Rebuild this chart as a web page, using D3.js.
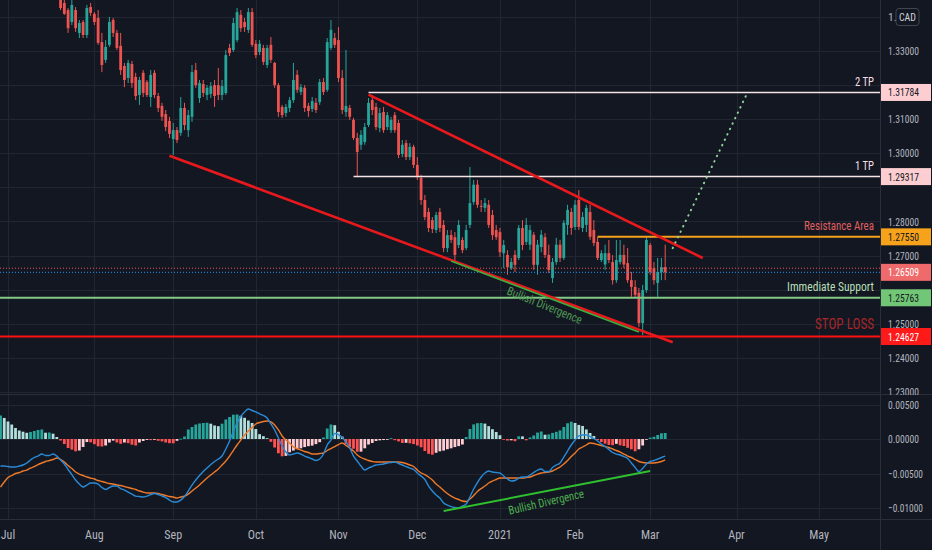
<!DOCTYPE html>
<html><head><meta charset="utf-8">
<script src="https://cdn.jsdelivr.net/npm/d3@7"></script>
<style>
html,body{margin:0;padding:0;background:#131722;overflow:hidden;}
svg{display:block;}
text{font-family:"Liberation Sans Narrow","Roboto Condensed",Roboto,"DejaVu Sans",sans-serif;}
</style></head><body>
<svg id="chart" width="932" height="550"></svg>
<script>
// ---------- categories (trading calendar) ----------
const calendarStart = "2020-06-29", calendarEnd = "2021-05-31";
const holidays = ["2020-12-25","2021-01-01"];
const candleStartDate = "2020-07-17";
const macdStartDate = "2020-06-29";

// ---------- price series (USDCAD daily) ----------
const opens = [
1.3480,1.3470,1.3450,1.3441,1.3420,1.3385,1.3420,1.3353,1.3385,1.3347,
1.3429,1.3409,1.3397,1.3326,1.3274,1.3318,1.3391,1.3353,1.3315,1.3256,
1.3221,1.3262,1.3224,1.3171,1.3236,1.3209,1.3165,1.3236,1.3168,1.3139,
1.3115,1.3095,1.3042,1.3068,1.3060,1.3133,1.3068,1.3107,1.3244,1.3162,
1.3203,1.3171,1.3174,1.3200,1.3200,1.3171,1.3177,1.3309,1.3303,1.3332,
1.3406,1.3385,1.3362,1.3414,1.3321,1.3297,1.3309,1.3259,1.3318,1.3265,
1.3200,1.3136,1.3118,1.3133,1.3156,1.3230,1.3180,1.3192,1.3139,1.3130,
1.3148,1.3150,1.3209,1.3186,1.3309,1.3338,1.3332,1.3221,1.3121,1.3133,
1.3098,1.3045,1.3025,1.3033,1.3083,1.3156,1.3136,1.3074,1.3121,1.3077,
1.3068,1.3112,1.3089,1.2998,1.3030,1.2989,1.3019,1.2966,1.2928,1.2863,
1.2828,1.2804,1.2775,1.2828,1.2790,1.2722,1.2760,1.2754,1.2731,1.2746,
1.2722,1.2790,1.2857,1.2908,1.2846,1.2840,1.2849,1.2819,1.2775,1.2769,
1.2707,1.2702,1.2663,1.2702,1.2693,1.2781,1.2740,1.2732,1.2761,1.2673,
1.2725,1.2754,1.2702,1.2634,1.2681,1.2732,1.2693,1.2790,1.2828,1.2784,
1.2863,1.2781,1.2790,1.2828,1.2775,1.2740,1.2687,1.2674,1.2707,1.2681,
1.2628,1.2681,1.2702,1.2678,1.2628,1.2608,1.2591,1.2502,1.2599,1.2731,
1.2663,1.2620,1.2652,1.2666];
const highs = [
1.3500,1.3490,1.3458,1.3450,1.3426,1.3450,1.3429,1.3391,1.3391,1.3435,
1.3441,1.3414,1.3420,1.3353,1.3332,1.3400,1.3397,1.3362,1.3353,1.3265,
1.3274,1.3271,1.3236,1.3224,1.3244,1.3215,1.3244,1.3244,1.3177,1.3148,
1.3127,1.3107,1.3089,1.3077,1.3165,1.3148,1.3127,1.3259,1.3265,1.3215,
1.3215,1.3200,1.3209,1.3215,1.3250,1.3215,1.3303,1.3321,1.3397,1.3426,
1.3420,1.3397,1.3426,1.3426,1.3332,1.3332,1.3318,1.3318,1.3341,1.3268,
1.3206,1.3142,1.3145,1.3165,1.3265,1.3244,1.3203,1.3200,1.3148,1.3165,
1.3162,1.3218,1.3221,1.3338,1.3391,1.3353,1.3370,1.3244,1.3303,1.3142,
1.3104,1.3060,1.3068,1.3089,1.3162,1.3171,1.3148,1.3133,1.3136,1.3121,
1.3107,1.3121,1.3098,1.3039,1.3039,1.3030,1.3025,1.2989,1.2937,1.2878,
1.2840,1.2813,1.2828,1.2840,1.2804,1.2775,1.2775,1.2769,1.2804,1.2754,
1.2790,1.2960,1.2922,1.2922,1.2863,1.2869,1.2863,1.2834,1.2790,1.2781,
1.2746,1.2716,1.2693,1.2716,1.2790,1.2804,1.2810,1.2790,1.2769,1.2746,
1.2775,1.2766,1.2732,1.2693,1.2752,1.2746,1.2804,1.2849,1.2840,1.2863,
1.2892,1.2828,1.2849,1.2849,1.2804,1.2754,1.2716,1.2732,1.2746,1.2702,
1.2746,1.2746,1.2732,1.2722,1.2652,1.2628,1.2605,1.2614,1.2754,1.2737,
1.2681,1.2693,1.2693,1.2732];
const lows = [
1.3455,1.3452,1.3420,1.3406,1.3353,1.3376,1.3356,1.3338,1.3338,1.3338,
1.3403,1.3376,1.3318,1.3238,1.3265,1.3312,1.3341,1.3303,1.3230,1.3194,
1.3206,1.3192,1.3156,1.3142,1.3165,1.3165,1.3136,1.3162,1.3121,1.3095,
1.3065,1.3045,1.2995,1.3030,1.3051,1.3068,1.3048,1.3092,1.3192,1.3148,
1.3165,1.3156,1.3162,1.3136,1.3156,1.3156,1.3171,1.3285,1.3297,1.3326,
1.3356,1.3356,1.3353,1.3312,1.3279,1.3288,1.3259,1.3250,1.3265,1.3192,
1.3107,1.3104,1.3107,1.3121,1.3148,1.3177,1.3171,1.3121,1.3107,1.3121,
1.3118,1.3142,1.3171,1.3180,1.3303,1.3309,1.3209,1.3115,1.3107,1.3098,
1.3039,1.2930,1.3010,1.3025,1.3077,1.3112,1.3068,1.3062,1.3060,1.3068,
1.3060,1.3060,1.2986,1.2989,1.2980,1.2980,1.2957,1.2922,1.2849,1.2804,
1.2769,1.2766,1.2766,1.2769,1.2710,1.2710,1.2737,1.2681,1.2722,1.2707,
1.2716,1.2781,1.2849,1.2840,1.2828,1.2828,1.2781,1.2746,1.2746,1.2696,
1.2663,1.2644,1.2658,1.2652,1.2687,1.2716,1.2731,1.2716,1.2658,1.2644,
1.2710,1.2693,1.2649,1.2620,1.2673,1.2681,1.2687,1.2761,1.2761,1.2775,
1.2775,1.2769,1.2769,1.2746,1.2728,1.2687,1.2681,1.2658,1.2678,1.2615,
1.2620,1.2674,1.2663,1.2620,1.2579,1.2576,1.2490,1.2467,1.2591,1.2644,
1.2615,1.2579,1.2628,1.2628];
const closes = [
1.3470,1.3462,1.3426,1.3409,1.3367,1.3435,1.3367,1.3382,1.3347,1.3426,
1.3412,1.3385,1.3324,1.3259,1.3312,1.3385,1.3353,1.3309,1.3244,1.3215,
1.3265,1.3206,1.3168,1.3215,1.3177,1.3171,1.3230,1.3171,1.3133,1.3107,
1.3077,1.3057,1.3068,1.3039,1.3133,1.3083,1.3112,1.3238,1.3200,1.3206,
1.3177,1.3192,1.3197,1.3168,1.3171,1.3197,1.3288,1.3294,1.3382,1.3414,
1.3367,1.3370,1.3414,1.3318,1.3288,1.3321,1.3268,1.3309,1.3274,1.3200,
1.3121,1.3112,1.3136,1.3156,1.3215,1.3186,1.3194,1.3133,1.3124,1.3153,
1.3127,1.3209,1.3180,1.3326,1.3362,1.3318,1.3221,1.3127,1.3139,1.3107,
1.3045,1.3004,1.3054,1.3077,1.3148,1.3127,1.3077,1.3118,1.3068,1.3112,
1.3098,1.3068,1.2995,1.3025,1.2989,1.3019,1.2966,1.2930,1.2863,1.2813,
1.2781,1.2778,1.2819,1.2781,1.2722,1.2760,1.2746,1.2702,1.2790,1.2716,
1.2775,1.2854,1.2908,1.2849,1.2843,1.2854,1.2790,1.2760,1.2754,1.2710,
1.2731,1.2666,1.2681,1.2673,1.2781,1.2731,1.2790,1.2775,1.2673,1.2732,
1.2761,1.2702,1.2658,1.2681,1.2732,1.2693,1.2796,1.2834,1.2781,1.2849,
1.2784,1.2813,1.2840,1.2755,1.2737,1.2693,1.2707,1.2707,1.2687,1.2628,
1.2687,1.2702,1.2674,1.2628,1.2608,1.2585,1.2502,1.2599,1.2746,1.2652,
1.2628,1.2652,1.2666,1.2651];

// ---------- MACD (12,26,9) ----------
const macdLine = [
-.00392,-.00392,-.00399,-.00406,-.00406,-.00392,-.00377,-.00348,-.00305,-.00268,
-.00247,-.00218,-.00239,-.00239,-.00218,-.00247,-.00305,-.00363,-.00442,-.00515,
-.00595,-.00653,-.00696,-.00667,-.00638,-.00638,-.00653,-.00703,-.00732,-.00703,
-.00682,-.00682,-.00718,-.00740,-.00769,-.00798,-.00827,-.00834,-.00841,-.00827,
-.00805,-.00790,-.00805,-.00827,-.00848,-.00885,-.00914,-.00914,-.00885,-.00834,
-.00754,-.00667,-.00595,-.00529,-.00471,-.00421,-.00370,-.00326,-.00290,-.00247,
-.00145,-.00029,.00109,.00232,.00326,.00392,.00435,.00413,.00392,.00363,
.00341,.00305,.00218,.00131,.00015,-.00102,-.00189,-.00232,-.00218,-.00203,
-.00218,-.00247,-.00268,-.00290,-.00312,-.00290,-.00218,-.00087,-.00015,.00080,
.00065,.00022,-.00044,-.00131,-.00247,-.00319,-.00392,-.00450,-.00421,-.00399,
-.00377,-.00370,-.00363,-.00348,-.00341,-.00334,-.00355,-.00377,-.00399,-.00421,
-.00442,-.00493,-.00537,-.00587,-.00682,-.00754,-.00812,-.00856,-.00928,-.00957,
-.00979,-.00993,-.01001,-.00972,-.00943,-.00841,-.00725,-.00631,-.00551,-.00493,
-.00464,-.00479,-.00486,-.00493,-.00537,-.00580,-.00609,-.00602,-.00566,-.00551,
-.00551,-.00522,-.00486,-.00450,-.00435,-.00471,-.00471,-.00413,-.00377,-.00348,
-.00261,-.00174,-.00087,-.00015,.00044,.00058,.00058,.00036,.00007,-.00029,
-.00073,-.00109,-.00152,-.00196,-.00218,-.00232,-.00254,-.00283,-.00348,-.00413,
-.00471,-.00428,-.00363,-.00326,-.00312,-.00290,-.00268,-.00247];
const signalLine = [
-.00696,-.00624,-.00558,-.00529,-.00500,-.00486,-.00464,-.00450,-.00421,-.00399,
-.00370,-.00348,-.00326,-.00312,-.00297,-.00276,-.00297,-.00334,-.00384,-.00428,
-.00479,-.00508,-.00529,-.00551,-.00566,-.00580,-.00602,-.00616,-.00631,-.00645,
-.00653,-.00667,-.00674,-.00689,-.00703,-.00718,-.00732,-.00754,-.00769,-.00783,
-.00783,-.00783,-.00790,-.00805,-.00819,-.00834,-.00841,-.00856,-.00841,-.00827,
-.00798,-.00754,-.00711,-.00667,-.00616,-.00566,-.00522,-.00479,-.00435,-.00377,
-.00319,-.00247,-.00167,-.00087,-.00015,.00058,.00116,.00167,.00218,.00239,
.00254,.00261,.00247,.00203,.00131,.00044,-.00015,-.00058,-.00116,-.00138,
-.00160,-.00181,-.00196,-.00218,-.00218,-.00210,-.00203,-.00167,-.00138,-.00109,
-.00080,-.00058,-.00094,-.00131,-.00174,-.00232,-.00268,-.00290,-.00312,-.00326,
-.00334,-.00334,-.00334,-.00334,-.00334,-.00334,-.00334,-.00341,-.00355,-.00377,
-.00399,-.00450,-.00493,-.00515,-.00551,-.00595,-.00653,-.00696,-.00747,-.00790,
-.00827,-.00856,-.00877,-.00899,-.00906,-.00870,-.00819,-.00761,-.00718,-.00682,
-.00638,-.00609,-.00587,-.00566,-.00566,-.00566,-.00566,-.00566,-.00566,-.00566,
-.00558,-.00551,-.00529,-.00508,-.00493,-.00486,-.00479,-.00464,-.00435,-.00406,
-.00363,-.00312,-.00254,-.00203,-.00145,-.00116,-.00087,-.00058,-.00065,-.00080,
-.00094,-.00109,-.00123,-.00145,-.00167,-.00189,-.00218,-.00247,-.00268,-.00297,
-.00326,-.00341,-.00348,-.00348,-.00348,-.00341,-.00326,-.00304];
const histogram = [
.00341,.00305,.00254,.00210,.00160,.00123,.00106,.00090,.00102,.00116,
.00131,.00138,.00091,.00094,.00077,.00029,-.00022,-.00073,-.00131,-.00154,
-.00178,-.00167,-.00116,-.00044,-.00048,-.00075,-.00106,-.00109,-.00094,-.00051,
-.00023,-.00051,-.00070,-.00051,-.00061,-.00083,-.00094,-.00051,-.00029,-.00013,
-.00016,-.00012,-.00026,-.00035,-.00051,-.00061,-.00062,-.00026,.00004,.00036,
.00138,.00174,.00210,.00225,.00232,.00235,.00222,.00196,.00186,.00222,
.00283,.00319,.00352,.00355,.00336,.00307,.00268,.00232,.00145,.00070,
.00041,.00012,-.00041,-.00123,-.00207,-.00251,-.00244,-.00193,-.00168,-.00148,
-.00135,-.00117,-.00104,-.00096,-.00074,-.00046,.00022,.00152,.00210,.00200,
.00104,.00035,-.00073,-.00119,-.00141,-.00184,-.00183,-.00135,-.00080,-.00057,
-.00029,-.00019,-.00015,-.00003,.00012,-.00017,-.00035,-.00058,-.00055,-.00062,
-.00074,-.00094,-.00120,-.00174,-.00215,-.00228,-.00200,-.00178,-.00168,-.00148,
-.00135,-.00117,-.00103,-.00080,.00029,.00145,.00212,.00229,.00232,.00223,
.00186,.00142,.00102,.00055,-.00007,-.00022,-.00019,-.00032,.00039,.00038,
-.00019,.00022,.00051,.00093,.00109,.00062,.00067,.00088,.00104,.00125,
.00174,.00228,.00251,.00232,.00204,.00189,.00138,.00087,.00044,-.00015,
-.00044,-.00068,-.00086,-.00090,-.00070,-.00091,-.00102,-.00128,-.00149,-.00178,
-.00149,-.00094,-.00007,.00019,.00032,.00058,.00083,.00087];

// ---------- axis ticks ----------
const priceTicks = [1.34,1.33,1.32,1.31,1.30,1.29,1.28,1.27,1.26,1.25,1.24,1.23];
const macdTicks = [0.005,0,-0.005,-0.01];

// ---------- drawings ----------
const levelNames  = ["2 TP","1 TP","Resistance Area","Immediate Support","STOP LOSS"];
const levelPrices = [1.31784,1.29317,1.27550,1.25763,1.24627];
const levelFrom   = ["2020-11-12","2020-11-06","2021-02-09",null,null];
const lastPrice = 1.26509, askPrice = 1.2663;
const upperTrend = [["2020-11-12",1.3172],["2021-03-19",1.2693]];
const lowerTrend = [["2020-08-31",1.2993],["2021-03-09",1.2446]];
const priceDivergence = [["2020-12-14",1.2684],["2021-02-24",1.2476]];
const projection = [["2021-03-09",1.2722],["2021-04-06",1.3180]];
const macdDivergence = [["2020-12-10",-0.01044],["2021-03-01",-0.00464]];
const divergenceText = "Bullish Divergence";

// ================= rendering =================
function tradingDays(){
  const out=[]; let t=Date.parse(calendarStart+"T00:00:00Z"); const end=Date.parse(calendarEnd+"T00:00:00Z");
  while(t<=end){ const d=new Date(t); const wd=d.getUTCDay(); const s=d.toISOString().slice(0,10);
    if(wd!==0&&wd!==6&&!holidays.includes(s)) out.push(s); t+=86400000; }
  return out;
}
const days = tradingDays();
const idx = new Map(days.map((d,i)=>[d,i]));

const W=932,H=550, plotR=880, pBottom=394, mTop=395, mBottom=519;
const svg=d3.select("#chart");
svg.append("rect").attr("width",W).attr("height",H).attr("fill","#131722");

const x=d3.scaleLinear().domain([-0.13,234.2]).range([0,plotR]);
const xd=d=>x(idx.get(d));
const y=d3.scaleLinear().domain([1.229413,1.344956]).range([pBottom,0]);
const ym=d3.scaleLinear().domain([-0.011594,0.006377]).range([mBottom,mTop]);

const defs=svg.append("defs");
defs.append("clipPath").attr("id","cp").append("rect").attr("x",0).attr("y",0).attr("width",plotR).attr("height",pBottom);
defs.append("clipPath").attr("id","cm").append("rect").attr("x",0).attr("y",mTop).attr("width",plotR).attr("height",mBottom-mTop);

// grid
const gridCol="#222632";
const grid=svg.append("g");
const monthTicks=[];
days.forEach((d,i)=>{ const dt=new Date(d+"T00:00:00Z"); const prev=i>0?days[i-1].slice(0,7):null;
  if(d.slice(0,7)!==prev && dt.getUTCDate()<=7) monthTicks.push({k:i,label: dt.getUTCMonth()===0? String(dt.getUTCFullYear()) : d3.utcFormat("%b")(dt)}); });
monthTicks.forEach(t=>{ const xx=Math.round(x(t.k))+0.5;
  grid.append("line").attr("x1",xx).attr("x2",xx).attr("y1",0).attr("y2",mBottom).attr("stroke",gridCol); });
priceTicks.forEach(p=>{ const yy=Math.round(y(p))+0.5;
  grid.append("line").attr("x1",0).attr("x2",plotR).attr("y1",yy).attr("y2",yy).attr("stroke",gridCol); });
macdTicks.forEach(v=>{ const yy=Math.round(ym(v))+0.5;
  grid.append("line").attr("x1",0).attr("x2",plotR).attr("y1",yy).attr("y2",yy).attr("stroke",gridCol); });

// candles
const UP="#26a69a", DN="#ef5350";
const cg=svg.append("g").attr("clip-path","url(#cp)");
const k0=idx.get(candleStartDate);
closes.forEach((c,j)=>{
  const k=k0+j, o=opens[j], h=highs[j], l=lows[j], col=c>=o?UP:DN, cx=x(k);
  cg.append("line").attr("x1",cx).attr("x2",cx).attr("y1",y(h)).attr("y2",y(l)).attr("stroke",col).attr("stroke-width",1);
  const top=y(Math.max(o,c)), bh=Math.max(1,Math.abs(y(o)-y(c)));
  cg.append("rect").attr("x",cx-1.4).attr("width",2.8).attr("y",top).attr("height",bh).attr("fill",col);
});

// drawings on price pane
const dg=svg.append("g").attr("clip-path","url(#cp)");
dg.append("line").attr("x1",0).attr("x2",plotR).attr("y1",y(askPrice)).attr("y2",y(askPrice)).attr("stroke","#ef5350").attr("stroke-width",1).attr("stroke-dasharray","1,2");
dg.append("line").attr("x1",0).attr("x2",plotR).attr("y1",y(lastPrice)).attr("y2",y(lastPrice)).attr("stroke","#2196f3").attr("stroke-width",1).attr("stroke-dasharray","1,2");

const levelStroke=["#f3e4e6","#f3e4e6","#f5a11c","#85c987","#ff1010"];
const levelWidth=[1.5,1.5,2,2,2.2];
const levelText=["#f2dfe2","#f2dfe2","#e06060","#b6dfb6","#a8262a"];
const levelTextLen=[19,19,70,87,59];
const levelFont=[12.5,12.5,13,13,14];
levelPrices.forEach((p,i)=>{
  const x1=levelFrom[i]?xd(levelFrom[i]):0;
  dg.append("line").attr("x1",x1).attr("x2",plotR).attr("y1",y(p)).attr("y2",y(p)).attr("stroke",levelStroke[i]).attr("stroke-width",levelWidth[i]);
  dg.append("text").attr("x",874).attr("y",y(p)-(i===4?8:6.5)).attr("text-anchor","end")
    .attr("font-size",levelFont[i]).attr("fill",levelText[i]).attr("textLength",levelTextLen[i]).attr("lengthAdjust","spacingAndGlyphs").text(levelNames[i]);
});
const seg=(pts,sc)=>pts.map(([d,v])=>[xd(d),sc(v)]);
function drawSeg(g,pts,sc,col,w,dash){
  const s=seg(pts,sc);
  const ln=g.append("line").attr("x1",s[0][0]).attr("y1",s[0][1]).attr("x2",s[1][0]).attr("y2",s[1][1]).attr("stroke",col).attr("stroke-width",w);
  if(dash) ln.attr("stroke-dasharray",dash).attr("stroke-linecap","round");
  return s;
}
drawSeg(dg,upperTrend,y,"#e8191c",2.6);
drawSeg(dg,lowerTrend,y,"#e8191c",2.6);
const pd=drawSeg(dg,priceDivergence,y,"#3fae3f",1.6);
drawSeg(dg,projection,y,"#8fd19a",2,"0.5,5.5");
{ const ang=Math.atan2(pd[1][1]-pd[0][1],pd[1][0]-pd[0][0])*180/Math.PI+1.5;
  dg.append("text").attr("transform",`translate(543,309) rotate(${ang})`).attr("text-anchor","middle")
   .attr("font-size",12).attr("fill","#4f9a52").attr("textLength",80).attr("lengthAdjust","spacingAndGlyphs").text(divergenceText); }

// MACD pane
const mg=svg.append("g").attr("clip-path","url(#cm)");
const km=idx.get(macdStartDate);
histogram.forEach((v,j)=>{
  const prev=j>0?histogram[j-1]:v; let col;
  if(v>=0) col = v>=prev ? "#26a69a" : "#b2dfdb"; else col = v>prev ? "#ffcdd2" : "#ff5252";
  const cx=x(km+j), y0=ym(0), y1=ym(v);
  mg.append("rect").attr("x",cx-1.4).attr("width",2.8).attr("y",Math.min(y0,y1)).attr("height",Math.max(0.8,Math.abs(y1-y0))).attr("fill",col);
});
const lineGen=d3.line().x((v,j)=>x(km+j)).y(v=>ym(v)).curve(d3.curveMonotoneX);
mg.append("path").attr("d",lineGen(signalLine)).attr("fill","none").attr("stroke","#ef7a2a").attr("stroke-width",1.4);
mg.append("path").attr("d",lineGen(macdLine)).attr("fill","none").attr("stroke","#2a8ad6").attr("stroke-width",1.4);
const md=drawSeg(mg,macdDivergence,ym,"#2fc02f",2);
{ const ang=Math.atan2(md[1][1]-md[0][1],md[1][0]-md[0][0])*180/Math.PI-2;
  mg.append("text").attr("transform",`translate(547,506) rotate(${ang})`).attr("text-anchor","middle")
   .attr("font-size",12).attr("fill","#4caf50").attr("textLength",77).attr("lengthAdjust","spacingAndGlyphs").text(divergenceText); }

// separators
svg.append("line").attr("x1",0).attr("x2",W).attr("y1",394.5).attr("y2",394.5).attr("stroke","#2a2e39");
svg.append("line").attr("x1",0).attr("x2",W).attr("y1",519.5).attr("y2",519.5).attr("stroke","#2a2e39");
svg.append("line").attr("x1",880.5).attr("x2",880.5).attr("y1",0).attr("y2",H).attr("stroke","#2a2e39");

// right axis
const ax=svg.append("g");
const fmt=d3.format(".5f");
const boxPrices=[levelPrices[0],levelPrices[1],levelPrices[2],lastPrice,levelPrices[3],levelPrices[4]];
const boxFill=["#fccdd1","#fccdd1","#f7a21b","#ef6a6a","#72c776","#ff1a1a"];
const boxText=["#131722","#131722","#131722","#ffffff","#131722","#ffffff"];
priceTicks.forEach((p,i)=>{
  const yy=y(p);
  if(boxPrices.some(b=>Math.abs(y(b)-yy)<12.5)) return;   // hidden under a price label
  if(i===0){ // top tick partly covered by the currency button
    ax.append("text").attr("x",888).attr("y",yy).attr("dy","0.35em").attr("font-size",11.5).attr("fill","#b2b5be").text("1.");
    return;
  }
  ax.append("text").attr("x",888).attr("y",yy).attr("dy","0.35em").attr("font-size",11.5).attr("fill","#b2b5be")
   .attr("textLength",31).attr("lengthAdjust","spacingAndGlyphs").text(fmt(p));
});
ax.append("rect").attr("x",881).attr("y",395).attr("width",51).attr("height",1).attr("fill","#131722");
macdTicks.forEach(v=>{
  const t=fmt(v);
  ax.append("text").attr("x",888).attr("y",ym(v)).attr("dy","0.35em").attr("font-size",11.5).attr("fill","#b2b5be")
   .attr("textLength",t.length>7?35:31).attr("lengthAdjust","spacingAndGlyphs").text(t);
});
// currency button
ax.append("rect").attr("x",896).attr("y",8.5).attr("width",23).attr("height",17).attr("rx",3).attr("fill","#131722").attr("stroke","#434651");
ax.append("text").attr("x",907.5).attr("y",17).attr("dy","0.35em").attr("text-anchor","middle").attr("font-size",11).attr("fill","#d1d4dc")
  .attr("textLength",17).attr("lengthAdjust","spacingAndGlyphs").text("CAD");

// price labels
boxPrices.forEach((p,i)=>{
  const yy=y(p);
  ax.append("rect").attr("x",881).attr("y",yy-8.5).attr("width",50).attr("height",17).attr("fill",boxFill[i]);
  ax.append("text").attr("x",888).attr("y",yy).attr("dy","0.35em").attr("font-size",11.5).attr("fill",boxText[i])
   .attr("textLength",31).attr("lengthAdjust","spacingAndGlyphs").text(fmt(p));
});

// time axis
monthTicks.forEach(t=>{
  svg.append("text").attr("x",x(t.k)).attr("y",539).attr("text-anchor","middle").attr("font-size",12).attr("fill","#b2b5be").text(t.label);
});
</script></body></html>
